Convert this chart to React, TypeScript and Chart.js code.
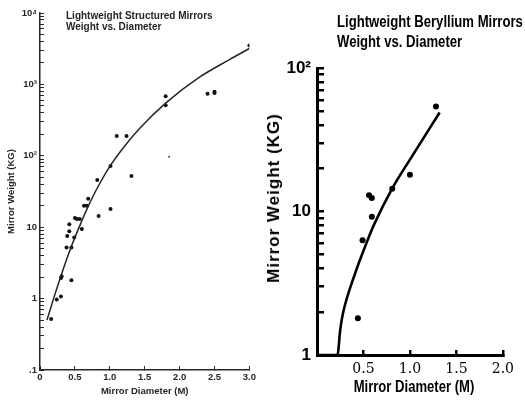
import React, { useEffect, useRef } from "react";
import { Chart, registerables } from "chart.js";

Chart.register(...registerables);

// ---------- Left chart: Lightweight Structured Mirrors ----------
const structDiameter = [0.16, 0.24, 0.30, 0.30, 0.31, 0.45, 0.38, 0.45, 0.39, 0.42, 0.42, 0.49, 0.50, 0.53, 0.57, 0.60, 0.63, 0.67, 0.69, 0.82, 0.84, 1.01, 1.01, 1.10, 1.24, 1.31, 1.80, 1.80, 2.40, 2.50, 2.50, 3.00];
const structWeight = [0.52, 0.97, 1.07, 1.95, 2.05, 1.8, 5.2, 5.2, 7.5, 8.8, 11, 7.2, 13.4, 13, 13, 9.4, 20, 20, 25, 46, 14.3, 18, 72, 190, 190, 52, 680, 510, 740, 790, 760, 3500];
const structFaintDiameter = [1.85];
const structFaintWeight = [97];
const structFitDiameter = [0.1, 0.2, 0.3, 0.43, 0.6, 0.7, 0.8, 1.0, 1.2, 1.43, 1.8, 2.29, 2.71, 3.0];
const structFitWeight = [0.5, 1.04, 2.08, 4.8, 12.3, 20.5, 32.4, 71, 132, 243, 546, 1270, 2210, 3180];
const structYTicks = [0.1, 1, 10, 100, 1000, 10000];
const structYLabels = [".1", "1", "10", "10²", "10³", "10⁴"];
const structXTicks = [0, 0.5, 1.0, 1.5, 2.0, 2.5, 3.0];
const structXLabels = ["0", "0.5", "1.0", "1.5", "2.0", "2.5", "3.0"];

// ---------- Right chart: Lightweight Beryllium Mirrors ----------
const berylDiameter = [0.44, 0.49, 0.56, 0.59, 0.59, 0.81, 1.00, 1.28];
const berylWeight = [1.8, 6.3, 13.0, 12.4, 9.2, 14.4, 18, 54];
const berylFitDiameter = [0, 0.22, 0.25, 0.28, 0.41, 0.54, 0.61, 0.81, 1.0, 1.32];
const berylFitWeight = [1, 1, 1.5, 1.96, 3.7, 6.2, 8.0, 14.5, 23, 49];
const berylYTicks = [1, 10, 100];
const berylYLabels = ["1", "10", "10²"];
const berylXTicks = [0.5, 1.0, 1.5, 2.0];
const berylXLabels = ["0.5", "1.0", "1.5", "2.0"];

const SANS = "'Liberation Sans', Arial, Helvetica, sans-serif";

// all tick positions (1..9 x each decade) for a log axis between 10^fromExp and 10^toExp
function logTickValues(fromExp: number, toExp: number): number[] {
  const out: number[] = [];
  for (let k = fromExp; k < toExp; k++) {
    for (let m = 1; m <= 9; m++) out.push(Number((m * Math.pow(10, k)).toPrecision(3)));
  }
  out.push(Math.pow(10, toExp));
  return out;
}

function labelFor(values: number[], labels: string[], v: any): string {
  const n = Number(v);
  const i = values.findIndex((t) => Math.abs(t - n) <= Math.abs(t) * 1e-6 + 1e-12);
  return i >= 0 ? labels[i] : "";
}

function toPoints(xs: number[], ys: number[]) {
  return xs.map((x, i) => ({ x, y: ys[i] }));
}

export default function App() {
  const leftRef = useRef<HTMLCanvasElement | null>(null);
  const rightRef = useRef<HTMLCanvasElement | null>(null);

  useEffect(() => {
    const gray = "#262626";
    const structYAll = logTickValues(-1, 4);
    const berylYAll = logTickValues(0, 2);

    const left = new Chart(leftRef.current as HTMLCanvasElement, {
      type: "scatter",
      data: {
        datasets: [
          {
            type: "line",
            data: toPoints(structFitDiameter, structFitWeight),
            borderColor: gray,
            borderWidth: 1.5,
            pointRadius: 0,
            cubicInterpolationMode: "monotone",
            fill: false,
          } as any,
          { data: toPoints(structDiameter, structWeight), pointRadius: 2, pointBackgroundColor: "#111", pointBorderWidth: 0 },
          { data: toPoints(structFaintDiameter, structFaintWeight), pointRadius: 1, pointBackgroundColor: "#444", pointBorderWidth: 0 },
        ],
      },
      options: {
        animation: false,
        responsive: false,
        devicePixelRatio: 1,
        layout: { padding: { left: 0, right: 12, top: 13, bottom: 0 } },
        plugins: { legend: { display: false }, tooltip: { enabled: false } },
        scales: {
          x: {
            type: "linear",
            min: 0,
            max: 3,
            afterBuildTicks: (s: any) => {
              s.ticks = structXTicks.map((v) => ({ value: v }));
            },
            afterFit: (s: any) => {
              s.height = 30;
            },
            ticks: {
              autoSkip: false,
              maxRotation: 0,
              padding: 6,
              color: gray,
              font: { family: SANS, size: 9.5, weight: "bold" },
              callback: (v: any) => labelFor(structXTicks, structXLabels, v),
            },
            grid: {
              display: true,
              drawOnChartArea: false,
              drawTicks: true,
              tickLength: -4,
              tickWidth: 1,
              tickColor: gray,
              lineWidth: 1,
              color: gray,
            },
            border: { display: true, color: gray, width: 1.5 },
            title: {
              display: true,
              text: "Mirror Diameter (M)",
              color: gray,
              font: { family: SANS, size: 9.5, weight: "bold" },
              padding: { top: 0, bottom: 3 },
            },
          },
          y: {
            type: "logarithmic",
            min: 0.1,
            max: 10000,
            afterBuildTicks: (s: any) => {
              s.ticks = structYAll.map((v) => ({ value: v }));
            },
            afterFit: (s: any) => {
              s.width = 40;
            },
            ticks: {
              autoSkip: false,
              padding: 7,
              color: gray,
              font: { family: SANS, size: 9.5, weight: "bold" },
              callback: (v: any) => labelFor(structYTicks, structYLabels, v),
            },
            grid: {
              display: true,
              drawOnChartArea: false,
              drawTicks: true,
              tickLength: -4,
              tickWidth: 1,
              tickColor: gray,
              lineWidth: 1,
              color: gray,
            },
            border: { display: true, color: gray, width: 1.5 },
            title: {
              display: true,
              text: "Mirror Weight (KG)",
              color: gray,
              font: { family: SANS, size: 9.5, weight: "bold" },
              padding: { top: 6, bottom: 0 },
            },
          },
        },
      },
    });

    const right = new Chart(rightRef.current as HTMLCanvasElement, {
      type: "scatter",
      data: {
        datasets: [
          {
            type: "line",
            data: toPoints(berylFitDiameter, berylFitWeight),
            borderColor: "#000",
            borderWidth: 2.6,
            pointRadius: 0,
            cubicInterpolationMode: "monotone",
            fill: false,
            clip: false,
          } as any,
          { data: toPoints(berylDiameter, berylWeight), pointRadius: 3, pointBackgroundColor: "#000", pointBorderWidth: 0 },
        ],
      },
      options: {
        animation: false,
        responsive: false,
        devicePixelRatio: 1,
        layout: { padding: { left: 0, right: 11, top: 68, bottom: 0 } },
        plugins: { legend: { display: false }, tooltip: { enabled: false } },
        scales: {
          x: {
            type: "linear",
            min: 0,
            max: 2,
            afterBuildTicks: (s: any) => {
              s.ticks = berylXTicks.map((v) => ({ value: v }));
            },
            afterFit: (s: any) => {
              s.height = 45;
            },
            ticks: {
              autoSkip: false,
              maxRotation: 0,
              padding: 11,
              color: "#000",
              font: { family: "'DejaVu Serif', serif", size: 14, weight: "normal" },
              callback: (v: any) => labelFor(berylXTicks, berylXLabels, v),
            },
            grid: {
              display: true,
              drawOnChartArea: false,
              drawTicks: true,
              tickLength: -5,
              tickWidth: 2.5,
              tickColor: "#000",
              lineWidth: 2.5,
              color: "#000",
            },
            border: { display: true, color: "#000", width: 3 },
            title: { display: false },
          },
          y: {
            type: "logarithmic",
            min: 1,
            max: 100,
            afterBuildTicks: (s: any) => {
              s.ticks = berylYAll.map((v) => ({ value: v }));
            },
            afterFit: (s: any) => {
              s.width = 55;
            },
            ticks: {
              autoSkip: false,
              padding: 13,
              color: "#000",
              font: { family: SANS, size: 17, weight: "bold" },
              callback: (v: any) => labelFor(berylYTicks, berylYLabels, v),
            },
            grid: {
              display: true,
              drawOnChartArea: false,
              drawTicks: true,
              tickLength: -7,
              tickWidth: 2.5,
              tickColor: "#000",
              lineWidth: 2.5,
              color: "#000",
            },
            border: { display: true, color: "#000", width: 3 },
            title: { display: false },
          },
        },
      },
    });

    return () => {
      left.destroy();
      right.destroy();
    };
  }, []);

  return (
    <div style={{ position: "fixed", left: 0, top: 0, width: 525, height: 400, background: "#fff", overflow: "hidden" }}>
      <canvas ref={leftRef} width={262} height={400} style={{ position: "absolute", left: 0, top: 0, width: 262, height: 400 }} />
      <canvas ref={rightRef} width={263} height={400} style={{ position: "absolute", left: 262, top: 0, width: 263, height: 400 }} />
      <div style={{ position: "absolute", left: 66, top: 10, fontFamily: SANS, fontWeight: "bold", fontSize: 10, lineHeight: "11px", color: "#262626", whiteSpace: "nowrap" }}>
        <div>Lightweight Structured Mirrors</div>
        <div>Weight vs. Diameter</div>
      </div>
      <div style={{ position: "absolute", left: 337, top: 12, fontFamily: SANS, fontWeight: "bold", fontSize: 16, lineHeight: "20px", color: "#000", whiteSpace: "nowrap", transform: "scaleX(0.82)", transformOrigin: "0 0" }}>
        <div>Lightweight Beryllium Mirrors</div>
        <div>Weight vs. Diameter</div>
      </div>
      <div style={{ position: "absolute", left: 274, top: 198, fontFamily: SANS, fontWeight: "bold", fontSize: 17, letterSpacing: "1px", lineHeight: "20px", color: "#000", whiteSpace: "nowrap", transform: "translate(-50%, -50%) rotate(-90deg)" }}>
        Mirror Weight (KG)
      </div>
      <div style={{ position: "absolute", left: 414, top: 387, fontFamily: SANS, fontWeight: "bold", fontSize: 17, lineHeight: "20px", color: "#000", whiteSpace: "nowrap", transform: "translate(-50%, -50%) scaleX(0.77)" }}>
        Mirror Diameter (M)
      </div>
    </div>
  );
}
